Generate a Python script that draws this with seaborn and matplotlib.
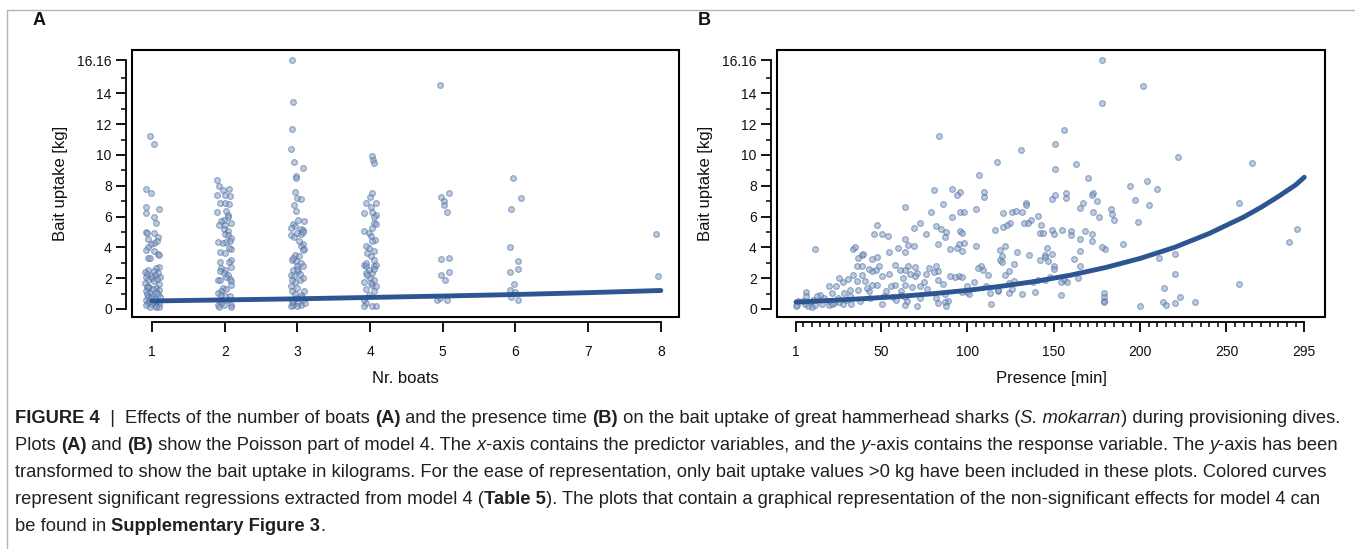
import numpy as np
import pandas as pd
import matplotlib
matplotlib.use('Agg')
import matplotlib.pyplot as plt
import seaborn as sns
from matplotlib.patches import Rectangle
from matplotlib.lines import Line2D
from matplotlib.transforms import IdentityTransform

# Panel A: number of boats (jittered position) vs bait uptake [kg]
boats_x = [
    # 1 boat
    0.97, 1.02, 0.92, 0.99, 0.92, 0.92, 1.09, 1.03, 1.06, 0.92, 0.93, 1.02, 0.95, 1.08, 1.07, 1.02,
    0.98, 0.94, 0.91, 1.02, 1.08, 1.10, 0.95, 0.97,
    1.10, 1.06, 0.95, 1.02, 0.90, 1.08, 0.93, 1.04, 0.98, 1.11, 0.92, 1.00, 1.07, 0.94, 1.03, 0.90,
    1.09, 0.96, 0.93, 0.95, 1.06, 1.01, 1.10, 0.91, 1.05, 0.97, 0.93, 1.08, 1.00, 0.95, 1.11, 0.98,
    1.04, 0.92, 1.07, 0.96, 1.02, 0.94, 1.09, 0.99, 0.91, 1.05, 1.06, 0.97, 1.10,
    # 2 boats
    1.89, 1.92, 2.06, 1.97, 1.89, 2.01, 2.07, 1.94, 2.01, 2.06, 1.89, 2.02, 2.05, 2.05, 1.99, 1.95,
    2.08, 2.01, 1.92, 1.99, 2.04, 2.01, 2.05, 2.09, 1.91, 1.98, 2.02, 2.07, 2.08, 2.06, 1.94, 2.00,
    2.09, 1.93, 2.06, 2.09, 1.95, 2.01, 1.93, 1.99, 2.04, 2.02, 2.07, 2.09, 1.91, 1.94, 2.08, 1.98,
    2.02, 1.95, 1.91, 1.95, 2.01, 2.07, 1.93, 2.05, 1.91, 1.99, 2.08, 1.95, 2.09, 1.92,
    # 3 boats
    2.92, 2.94, 2.92, 2.91, 2.95, 3.07, 2.98, 2.98, 2.97, 2.99, 3.05, 2.95, 2.98, 3.01, 3.09, 2.94,
    2.97, 2.91, 3.05, 3.07, 3.00, 3.05, 3.08, 2.91, 2.95, 3.07, 3.05, 3.09, 3.08, 2.97, 3.02, 2.93,
    2.98, 3.05, 3.00, 3.08, 2.94, 3.01, 2.91, 2.95, 3.07, 3.04, 2.97, 2.91, 3.00, 2.93, 3.05, 2.98,
    3.07, 2.94, 3.01, 2.94, 3.05, 2.99, 3.10, 2.91, 3.03, 2.99, 2.93, 3.09, 2.96, 2.92, 3.06, 2.94,
    3.02,
    # 4 boats
    4.03, 4.04, 4.06, 4.02, 4.00, 4.08, 3.95, 4.01, 3.92, 4.08, 4.06, 4.05, 4.02, 3.91, 3.99, 4.01,
    4.07, 4.02, 3.99, 3.94, 4.06, 3.96, 4.01, 4.05, 3.91, 3.95, 4.05, 4.08, 3.99, 3.94, 4.03, 4.00,
    4.06, 3.92, 4.02, 4.08, 3.94, 4.05, 3.99, 3.92, 3.95, 4.03, 3.92, 4.08, 3.96, 4.06, 4.01, 3.94,
    4.08, 4.03,
    # 5 boats
    4.96, 4.97, 5.01, 5.08, 5.02, 5.06, 4.98, 5.09, 4.97, 5.03, 5.09, 4.92, 4.96, 5.06,
    # 6 boats
    5.97, 6.07, 5.94, 5.92, 6.03, 6.04, 5.98, 5.92, 5.92, 5.99, 5.94, 6.03,
    # 8 boats
    7.94, 7.96,
]
boats_y = [
    # 1 boat
    11.2, 10.7, 7.8, 7.5, 6.65, 6.25, 6.5, 5.95, 5.55, 5.0, 4.95, 4.9, 4.55, 4.7, 4.4, 4.3,
    4.25, 4.05, 3.8, 3.75, 3.6, 3.5, 3.3, 3.3,
    2.7, 2.65, 2.5, 2.45, 2.4, 2.35, 2.3, 2.2, 2.15, 2.1, 2.05, 2.0, 1.95, 1.9, 1.8, 1.7,
    1.6, 1.45, 1.4, 1.4, 1.35, 1.3, 1.25, 1.2, 1.1, 1.05, 1.0, 0.95, 0.85, 0.8, 0.75, 0.7,
    0.65, 0.6, 0.55, 0.5, 0.45, 0.4, 0.35, 0.3, 0.25, 0.2, 0.15, 0.1, 0.12,
    # 2 boats
    8.34, 8.0, 7.8, 7.73, 7.39, 7.4, 7.35, 6.87, 6.87, 6.83, 6.31, 6.33, 6.1, 6.0, 5.8, 5.72,
    5.6, 5.47, 5.44, 5.18, 5.08, 4.86, 4.77, 4.6, 4.32, 4.3, 4.34, 4.4, 3.9, 3.95, 3.67, 3.63,
    3.2, 3.02, 3.02, 2.7, 2.68, 2.55, 2.48, 2.33, 2.2, 2.07, 1.94, 1.81, 1.86, 1.86, 1.53, 1.36,
    1.3, 1.17, 1.04, 0.93, 0.82, 0.85, 0.6, 0.6, 0.28, 0.24, 0.24, 0.39, 0.15, 0.15,
    # 3 boats
    16.16, 13.46, 11.69, 10.39, 9.53, 9.16, 8.6, 8.5, 7.58, 7.19, 7.13, 6.72, 6.33, 5.79, 5.72, 5.53,
    5.36, 5.25, 5.2, 5.14, 4.93, 4.86, 4.98, 4.82, 4.7, 4.21, 4.06, 3.89, 3.85, 3.52, 3.46, 3.2,
    3.11, 2.98, 2.81, 2.77, 2.55, 2.44, 2.23, 2.16, 2.0, 1.9, 1.75, 1.47, 1.36, 1.14, 0.93, 0.71,
    0.6, 0.5, 0.39, 0.28, 0.24, 0.17, 0.39, 0.17, 2.3, 2.6, 1.9, 1.2, 1.0, 0.45, 0.8, 3.3,
    4.4,
    # 4 boats
    9.9, 9.68, 9.46, 7.56, 7.26, 6.87, 6.87, 6.65, 6.24, 6.11, 6.0, 5.57, 5.25, 5.03, 4.93, 4.71,
    4.49, 4.39, 3.95, 4.06, 3.74, 3.63, 3.41, 3.2, 2.83, 2.77, 2.81, 2.85, 2.55, 2.33, 2.33, 2.0,
    1.9, 1.75, 1.58, 1.47, 1.32, 1.14, 0.93, 0.6, 0.39, 0.17, 0.17, 0.17, 2.2, 2.6, 1.7, 3.0,
    5.5, 6.3,
    # 5 boats
    14.56, 7.24, 7.0, 7.54, 6.76, 6.31, 3.24, 3.33, 2.2, 1.9, 2.42, 0.6, 0.71, 0.6,
    # 6 boats
    8.49, 7.21, 6.52, 4.02, 3.13, 2.59, 1.62, 2.42, 1.25, 1.08, 0.76, 0.6,
    # 8 boats
    4.88, 2.12,
]

# Panel B: presence [min] vs bait uptake [kg]
presence_x = [
    178, 178, 202, 156, 84, 151, 131, 222, 265, 117, 163, 151, 107, 170, 204, 210,
    194, 81, 91, 96, 94, 110, 110, 173, 172, 157, 157, 149, 151, 197, 175, 167,
    205, 134, 134, 86, 64, 257, 183, 121, 126, 128, 132, 165, 173, 176, 184, 185,
    105, 96, 98, 91, 79, 73, 48, 54, 141, 137, 135, 133, 125, 123, 121, 116,
    143, 149, 142, 144, 150, 155, 160, 160, 168, 172, 165, 172, 190, 180, 178, 199,
    82, 85, 88, 87, 96, 97, 76, 69, 64, 66, 64, 51, 46, 69, 105, 98,
    95, 83, 90, 94, 97, 60, 55, 34, 35, 39, 40, 45, 48, 37, 12, 119,
    120, 119, 129, 122, 136, 146, 145, 149, 145, 147, 142, 162, 165, 211, 220, 220,
    214, 223, 213, 215, 220, 232, 200, 179, 179, 179, 179, 257, 286, 291, 165, 164,
    154, 156, 158, 154, 150, 150, 148, 132, 124, 124, 127, 122, 124, 127, 120, 118,
    114, 112, 109, 108, 106, 104, 100, 100, 97, 95, 97, 93, 90, 89, 87, 87,
    88, 82, 83, 83, 83, 81, 82, 78, 76, 75, 73, 71, 70, 67, 70, 66,
    64, 63, 64, 62, 64, 64, 71, 73, 65, 58, 56, 58, 61, 55, 51, 49,
    47, 45, 43, 39, 36, 39, 34, 36, 41, 45, 48, 51, 52, 44, 38, 43,
    37, 32, 31, 28, 26, 24, 20, 22, 25, 29, 32, 33, 28, 23, 20, 17,
    15, 13, 11, 7, 7, 9, 6, 8, 10, 5, 2, 1.5, 1, 12, 16, 20,
    22, 26, 57, 59, 113, 118, 141, 145, 138, 30, 42, 53, 62, 68, 77, 86,
    101, 111, 126, 139,
]
presence_y = [
    16.16, 13.4, 14.5, 11.64, 11.2, 10.7, 10.35, 9.87, 9.48, 9.57, 9.44, 9.09, 8.68, 8.49, 8.32, 7.78,
    8.0, 7.71, 7.8, 7.58, 7.39, 7.58, 7.24, 7.52, 7.41, 7.56, 7.21, 7.15, 7.39, 7.08, 7.0, 6.91,
    6.72, 6.89, 6.74, 6.82, 6.63, 6.91, 6.48, 6.2, 6.28, 6.39, 6.31, 6.54, 6.28, 6.0, 6.16, 5.77,
    6.46, 6.28, 6.31, 5.94, 6.28, 5.57, 5.44, 4.71, 6.03, 5.79, 5.57, 5.57, 5.57, 5.46, 5.29, 5.1,
    5.46, 5.14, 4.92, 4.92, 4.86, 5.1, 5.07, 4.77, 5.07, 4.86, 4.56, 4.43, 4.19, 3.89, 4.0, 5.62,
    5.4, 5.18, 4.99, 4.67, 5.08, 4.95, 4.86, 5.23, 4.54, 4.13, 3.69, 4.84, 4.86, 4.08, 4.06, 4.28,
    4.2, 4.19, 3.91, 3.93, 3.74, 3.95, 3.71, 3.89, 4.02, 3.52, 3.6, 3.24, 3.35, 3.33, 3.91, 3.84,
    3.46, 3.2, 3.69, 4.06, 3.5, 3.93, 3.48, 3.56, 3.35, 3.09, 3.2, 3.22, 3.74, 3.3, 3.54, 2.29,
    1.36, 0.8, 0.45, 0.26, 0.37, 0.45, 0.17, 1.04, 0.76, 0.54, 0.43, 1.62, 4.36, 5.18, 2.76, 1.99,
    0.91, 1.9, 1.73, 1.73, 2.76, 2.6, 2.05, 0.99, 1.04, 1.66, 1.84, 2.22, 2.44, 2.89, 3.05, 1.14,
    0.3, 2.22, 2.5, 2.76, 2.63, 1.73, 1.47, 1.12, 1.12, 2.16, 2.07, 2.07, 2.16, 0.5, 0.97, 0.43,
    0.17, 0.71, 0.39, 1.86, 2.44, 2.38, 2.76, 2.63, 2.29, 1.73, 1.47, 2.31, 2.12, 2.29, 2.72, 2.76,
    2.5, 1.99, 1.58, 1.14, 0.76, 0.24, 0.17, 0.71, 0.5, 1.58, 1.47, 2.87, 2.55, 2.27, 2.16, 2.76,
    2.55, 2.44, 2.59, 2.76, 2.76, 2.22, 2.22, 1.79, 1.79, 1.58, 1.56, 0.35, 0.86, 0.71, 0.54, 1.19,
    1.25, 1.25, 1.94, 1.77, 2.01, 1.51, 1.51, 1.04, 0.71, 1.04, 0.82, 0.35, 0.35, 0.39, 0.5, 0.69,
    0.93, 0.82, 0.6, 1.12, 0.82, 0.48, 0.32, 0.17, 0.13, 0.54, 0.5, 0.28, 0.22, 0.24, 0.32, 0.24,
    0.32, 0.45, 0.76, 0.6, 1.04, 1.25, 1.9, 1.85, 1.75, 0.6, 1.35, 1.2, 0.9, 1.4, 1.3, 1.6,
    1.0, 1.5, 1.3, 1.1,
]

# fitted curves
curve_a_x = [1, 2, 3, 4, 5, 6, 7, 8]
curve_a_y = [0.52, 0.59, 0.66, 0.75, 0.84, 0.94, 1.06, 1.2]
curve_b_x = [1, 20, 40, 60, 80, 100, 120, 140, 160, 180, 200, 220, 240, 260, 270, 280, 290, 295]
curve_b_y = [0.45, 0.55, 0.67, 0.81, 0.99, 1.21, 1.48, 1.8, 2.2, 2.69, 3.28, 4.0, 4.9,
             5.97, 6.6, 7.3, 8.05, 8.55]

y_ticks = [0, 2, 4, 6, 8, 10, 12, 14, 16.16]
y_ticklabels = ['0', '2', '4', '6', '8', '10', '12', '14', '16.16']
a_ticks = [1, 2, 3, 4, 5, 6, 7, 8]
b_ticks = [1, 50, 100, 150, 200, 250, 295]

df_a = pd.DataFrame({'boats': boats_x, 'uptake': boats_y})
df_b = pd.DataFrame({'presence': presence_x, 'uptake': presence_y})

sns.set_theme(style='white')
plt.rcParams['font.family'] = ['Liberation Sans', 'DejaVu Sans']

W, H = 1355, 549
fig = plt.figure(figsize=(W / 100, H / 100), dpi=100)

pt_face = '#8aa2c8'
pt_edge = '#46679c'
line_col = '#2c5591'


def make_axes(left, right, top, bottom):
    return fig.add_axes([left / W, (H - bottom) / H, (right - left) / W, (bottom - top) / H])


def style(ax, xlim, xticks, xbounds, xminor):
    ax.set_xlim(xlim)
    ax.set_ylim(-0.52, 16.81)
    for s in ['top', 'right']:
        ax.spines[s].set_visible(False)
    ax.spines['left'].set_position(('outward', 4.5))
    ax.spines['left'].set_bounds(0, 16.16)
    ax.spines['bottom'].set_position(('outward', 3.5))
    ax.spines['bottom'].set_bounds(*xbounds)
    for s in ['left', 'bottom']:
        ax.spines[s].set_color('black')
        ax.spines[s].set_linewidth(1.3)
    ax.add_patch(Rectangle((0, 0), 1, 1, transform=ax.transAxes, fill=False,
                           lw=1.5, ec='black', clip_on=False, zorder=5))
    ax.set_yticks(y_ticks)
    ax.set_yticklabels(y_ticklabels)
    ax.set_yticks([1, 3, 5, 7, 9, 11, 13, 15], minor=True)
    ax.set_xticks(xticks)
    ax.set_xticklabels([str(t) for t in xticks])
    ax.set_xticks(xminor, minor=True)
    ax.tick_params(axis='both', which='both', bottom=True, left=True, top=False, right=False)
    ax.tick_params(axis='both', which='major', direction='out', length=7, width=1.3,
                   color='black', labelsize=10, labelcolor='#111111')
    ax.tick_params(axis='both', which='minor', direction='out', length=3.5, width=1.1, color='black')
    ax.tick_params(axis='y', which='major', pad=3)
    ax.tick_params(axis='x', which='major', pad=10)
    ax.set_ylabel('Bait uptake [kg]', fontsize=12, labelpad=7, color='#111111')


ax_a = make_axes(132, 679, 50, 317)
sns.scatterplot(data=df_a, x='boats', y='uptake', ax=ax_a, s=17, color=pt_face,
                edgecolor=pt_edge, linewidth=0.8, alpha=0.55, zorder=2)
sns.lineplot(x=curve_a_x, y=curve_a_y, ax=ax_a, color=line_col, lw=3.5, zorder=3)
style(ax_a, (0.724, 8.25), a_ticks, (1, 8), [])
ax_a.set_xlabel('Nr. boats', fontsize=12, labelpad=8, color='#111111')

ax_b = make_axes(777, 1325, 50, 317)
sns.scatterplot(data=df_b, x='presence', y='uptake', ax=ax_b, s=17, color=pt_face,
                edgecolor=pt_edge, linewidth=0.8, alpha=0.55, zorder=2)
sns.lineplot(x=curve_b_x, y=curve_b_y, ax=ax_b, color=line_col, lw=3.5, zorder=3)
b_minor = [m for m in range(5, 295, 5) if m % 50 != 0]
style(ax_b, (-10, 307), b_ticks, (1, 295), b_minor)
ax_b.set_xlabel('Presence [min]', fontsize=12, labelpad=8, color='#111111')

fig.text(33 / W, (H - 25) / H, 'A', fontsize=13, fontweight='bold', color='#111111')
fig.text(698 / W, (H - 25) / H, 'B', fontsize=13, fontweight='bold', color='#111111')

# thin grey frame of the figure box
fig.add_artist(Line2D([7 / W, 1], [(H - 10) / H, (H - 10) / H], color='#b5b5b5', lw=1))
fig.add_artist(Line2D([7 / W, 7 / W], [0, (H - 10) / H], color='#b5b5b5', lw=1))

# caption, drawn run by run
caption = [
    [('FIGURE 4', 'b'), ('  |  ', 'n'), ('Effects of the number of boats ', 'n'), ('(A)', 'b'),
     (' and the presence time ', 'n'), ('(B)', 'b'),
     (' on the bait uptake of great hammerhead sharks (', 'n'), ('S. mokarran', 'i'),
     (') during provisioning dives.', 'n')],
    [('Plots ', 'n'), ('(A)', 'b'), (' and ', 'n'), ('(B)', 'b'),
     (' show the Poisson part of model 4. The ', 'n'), ('x', 'i'),
     ('-axis contains the predictor variables, and the ', 'n'), ('y', 'i'),
     ('-axis contains the response variable. The ', 'n'), ('y', 'i'), ('-axis has been', 'n')],
    [('transformed to show the bait uptake in kilograms. For the ease of representation, only bait '
      'uptake values >0 kg have been included in these plots. Colored curves', 'n')],
    [('represent significant regressions extracted from model 4 (', 'n'), ('Table 5', 'b'),
     ('). The plots that contain a graphical representation of the non-significant effects for '
      'model 4 can', 'n')],
    [('be found in ', 'n'), ('Supplementary Figure 3', 'b'), ('.', 'n')],
]
baselines = [423, 450, 477, 504, 531]
renderer = fig.canvas.get_renderer()
for runs, base in zip(caption, baselines):
    x = 15
    for txt, st in runs:
        t = fig.text(x, H - base, txt, transform=IdentityTransform(), fontsize=13.2,
                     color='#231f20', va='baseline',
                     fontweight='bold' if st == 'b' else 'normal',
                     fontstyle='italic' if st == 'i' else 'normal')
        x = t.get_window_extent(renderer).x1

fig.savefig('out.png', dpi=100)
